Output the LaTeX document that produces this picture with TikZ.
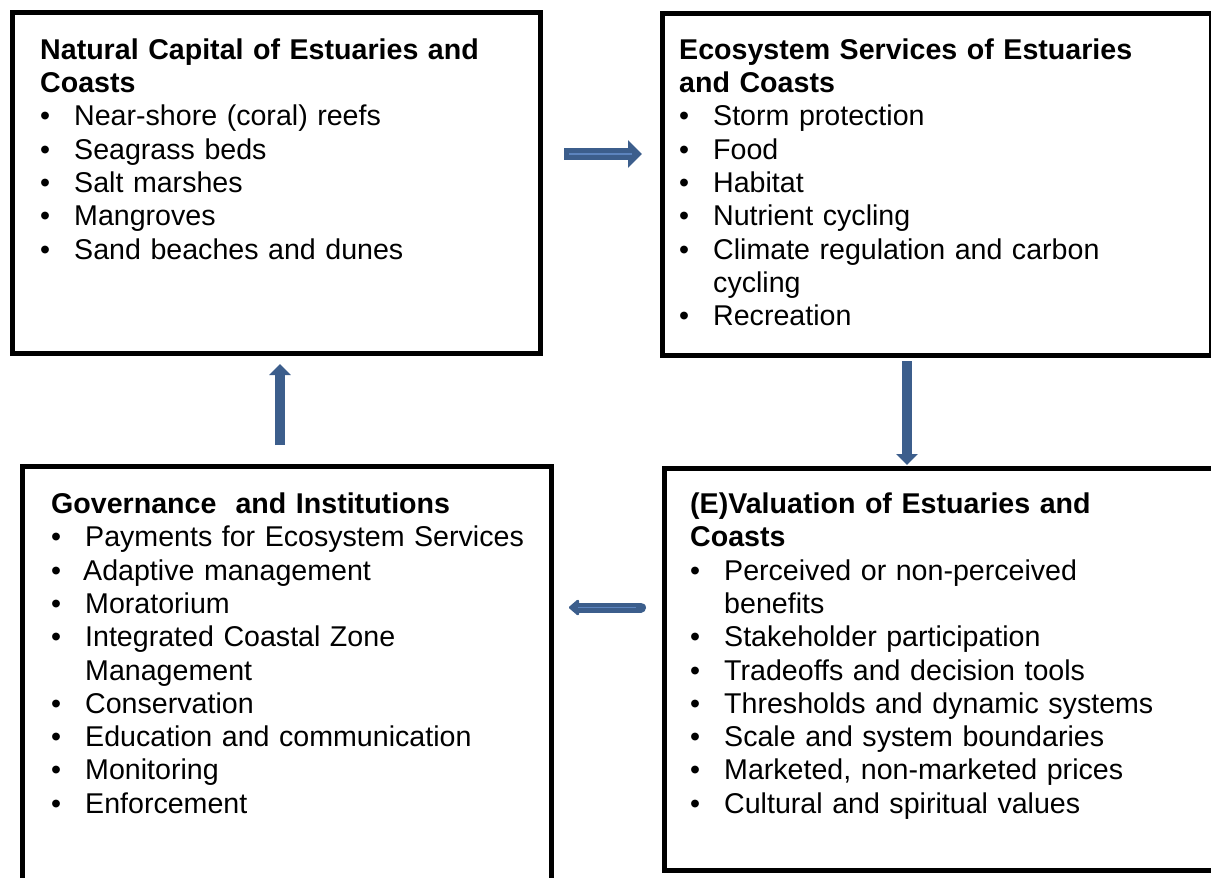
\documentclass[tikz,border=0pt]{standalone}
\usepackage{fontspec}
\setmainfont{Liberation Sans}
\usetikzlibrary{arrows.meta}
\definecolor{arrowblue}{RGB}{60,94,140}
\definecolor{arrowhi}{RGB}{92,132,190}
\newcommand{\bitem}[1]{\par\hangindent=34pt\hangafter=1\noindent\makebox[34pt][l]{•}#1}
\tikzset{
  box/.style={draw=black, line width=5pt, line join=miter, rectangle, inner sep=0pt},
  txt/.style={anchor=base west, inner sep=0pt, text width=560pt, font=\fontsize{28.6}{33.3}\selectfont},
  barrow/.style={draw=arrowblue},
  hiline/.style={draw=arrowhi, line width=1.5pt}
}
\begin{document}
\begin{tikzpicture}[x=1pt,y=-1pt]
\useasboundingbox (0,0) rectangle (1211,878);
\clip (0,0) rectangle (1211,878);
\fill[white] (0,0) rectangle (1211,878);
% boxes
\node[box, minimum width=528pt, minimum height=341pt] (nc) at (276.5,182.5) {};
\node[box, minimum width=549pt, minimum height=341.5pt] (es) at (936.5,184.25) {};
\node[box, minimum width=528.5pt, minimum height=434pt] (gi) at (286.75,683) {};
\node[box, minimum width=560.5pt, minimum height=402pt] (ev) at (944.75,669.5) {};
% texts
\node[txt] (tnc) at (40,59.3) {\raggedright\textbf{Natural Capital of Estuaries and\newline Coasts}%
\bitem{Near-shore (coral) reefs}%
\bitem{Seagrass beds}%
\bitem{Salt marshes}%
\bitem{Mangroves}%
\bitem{Sand beaches and dunes}};
\node[txt] (tes) at (679,59.3) {\raggedright\textbf{Ecosystem Services of Estuaries\newline and Coasts}%
\bitem{Storm protection}%
\bitem{Food}%
\bitem{Habitat}%
\bitem{Nutrient cycling}%
\bitem{Climate regulation and carbon\newline cycling}%
\bitem{Recreation}};
\node[txt] (tgi) at (51,513.5) {\raggedright\textbf{Governance\ \ and Institutions}%
\bitem{Payments for Ecosystem Services}%
\bitem{\hspace{-2pt}Adaptive management}%
\bitem{Moratorium}%
\bitem{Integrated Coastal Zone\newline Management}%
\bitem{Conservation}%
\bitem{Education and communication}%
\bitem{Monitoring}%
\bitem{Enforcement}};
\node[txt] (tev) at (690,513.5) {\raggedright\textbf{(E)Valuation of Estuaries and\newline Coasts}%
\bitem{Perceived or non-perceived\newline benefits}%
\bitem{Stakeholder participation}%
\bitem{Tradeoffs and decision tools}%
\bitem{Thresholds and dynamic systems}%
\bitem{Scale and system boundaries}%
\bitem{Marketed, non-marketed prices}%
\bitem{Cultural and spiritual values}};
% arrow coordinates
\coordinate (ra1) at (564,154);
\coordinate (ra2) at (642,154);
\coordinate (rh1) at (569,154);
\coordinate (rh2) at (632,154);
\coordinate (da1) at (907,361);
\coordinate (da2) at (907,465);
\coordinate (la1) at (641,607.5);
\coordinate (la2) at (569,607.5);
\coordinate (lh1) at (636,607.5);
\coordinate (lh2) at (578,607.5);
\coordinate (ua1) at (280,445);
\coordinate (ua2) at (280,364);
% arrows
\draw[barrow, line width=12pt, -{Triangle[length=14pt,width=27pt]}] (ra1) -- (ra2);
\draw[hiline] (rh1) -- (rh2);
\draw[barrow, line width=10pt, -{Triangle[length=11pt,width=21pt]}] (da1) -- (da2);
\draw[barrow, line width=10pt, line cap=round, -{Triangle[length=11pt,width=18pt,round]}] (la1) -- (la2);
\draw[hiline] (lh1) -- (lh2);
\draw[barrow, line width=9.5pt, -{Triangle[length=11pt,width=21pt]}] (ua1) -- (ua2);
\end{tikzpicture}
\end{document}
